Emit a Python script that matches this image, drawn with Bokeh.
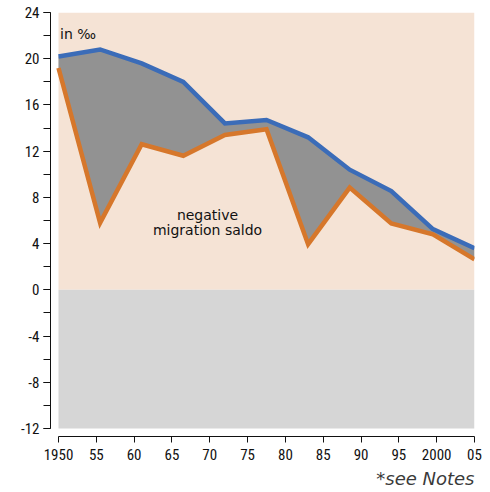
from bokeh.plotting import figure
from bokeh.models import Range1d, FixedTicker, SingleIntervalTicker, Label, Title
from bokeh.embed import file_html
from bokeh.resources import INLINE

# ---- data ----
years = [1950, 1955.5, 1961, 1966.5, 1972, 1977.5, 1983, 1988.5, 1994, 1999.5, 2005]
birth_rate = [20.2, 20.8, 19.6, 18.0, 14.4, 14.7, 13.2, 10.4, 8.55, 5.25, 3.6]   # blue
growth_rate = [19.2, 5.8, 12.6, 11.6, 13.4, 13.9, 3.95, 8.85, 5.75, 4.8, 2.65]   # orange

x_ticks = [1950, 1955, 1960, 1965, 1970, 1975, 1980, 1985, 1990, 1995, 2000, 2005]
x_tick_labels = ["1950", "55", "60", "65", "70", "75", "80", "85", "90", "95", "2000", "05"]
y_ticks = [-12, -8, -4, 0, 4, 8, 12, 16, 20, 24]
y_tick_labels = ["-12", "-8", "-4", "0", "4", "8", "12", "16", "20", "24"]
y_min, y_max, y_step = -12, 24, 4

unit_text = "in \u2030"
area_text = ["negative", "migration saldo"]
note_text = "*see Notes"

PEACH = "#f5e3d5"
LOWGREY = "#d6d6d6"
FILLGREY = "#929292"
BLUE = "#3b6cb8"
ORANGE = "#d6772b"
INK = "#111111"
TICK_FONT = "Roboto Condensed, DejaVu Sans Condensed, Liberation Sans Narrow, Roboto"

x0, x1 = min(x_ticks), max(x_ticks)
px_per_year = 7.564
px_per_unit = 11.555

p = figure(width=490, height=492, output_backend="svg", toolbar_location=None,
           x_range=Range1d(x0 - 8 / px_per_year, x1),
           y_range=Range1d(y_min - 8 / px_per_unit, y_max),
           min_border_left=50, min_border_right=16, min_border_top=12, min_border_bottom=56)
p.outline_line_color = None
p.background_fill_color = "white"
p.border_fill_color = "white"
p.xgrid.visible = False
p.ygrid.visible = False

# background bands
p.quad(left=[x0], right=[x1], bottom=[0], top=[y_max], color=PEACH, line_color=None)
p.quad(left=[x0], right=[x1], bottom=[y_min], top=[0], color=LOWGREY, line_color=None)

# area between lines
p.varea(x=years, y1=growth_rate, y2=birth_rate, fill_color=FILLGREY)
p.line(years, birth_rate, line_color=BLUE, line_width=4.5, line_join="miter")
p.line(years, growth_rate, line_color=ORANGE, line_width=4.5, line_join="miter")

# axes
xa = p.xaxis[0]
xa.ticker = FixedTicker(ticks=x_ticks)
xa.major_label_overrides = {t: l for t, l in zip(x_ticks, x_tick_labels)}
xa.bounds = (x0, x1)
xa.major_tick_in = 0
xa.major_tick_out = 6
xa.minor_tick_out = 0
xa.minor_tick_in = 0
xa.major_label_standoff = 6
xa.axis_line_color = INK
xa.major_tick_line_color = INK
xa.major_label_text_font = TICK_FONT
xa.major_label_text_font_size = "15px"
xa.major_label_text_color = INK

ya = p.yaxis[0]
ya.ticker = SingleIntervalTicker(interval=y_step, num_minor_ticks=2)
ya.major_label_overrides = {t: l for t, l in zip(y_ticks, y_tick_labels)}
ya.bounds = (y_min, y_max)
ya.major_tick_in = 0
ya.major_tick_out = 7
ya.minor_tick_in = 0
ya.minor_tick_out = 7
ya.major_label_standoff = 4
ya.axis_line_color = INK
ya.major_tick_line_color = INK
ya.minor_tick_line_color = INK
ya.major_label_text_font = TICK_FONT
ya.major_label_text_font_size = "15px"
ya.major_label_text_color = INK

# texts
p.add_layout(Label(x=x0, y=y_max, x_offset=1.5, y_offset=-21, text=unit_text,
                   text_font="DejaVu Sans", text_font_size="14px", text_color=INK,
                   text_baseline="alphabetic", text_align="left"))
p.add_layout(Label(x=1969.7, y=6.5, text=area_text[0], text_font="DejaVu Sans",
                   text_font_size="14px", text_color=INK, text_align="center",
                   text_baseline="alphabetic"))
p.add_layout(Label(x=1969.7, y=5.2, text=area_text[1], text_font="DejaVu Sans",
                   text_font_size="14px", text_color=INK, text_align="center",
                   text_baseline="alphabetic"))
p.add_layout(Title(text=note_text, align="right", text_font="DejaVu Sans",
                   text_font_style="italic", text_font_size="18px", text_color="#3a3a3a",
                   standoff=7), "below")

open("out.html", "w").write(file_html(p, INLINE))
